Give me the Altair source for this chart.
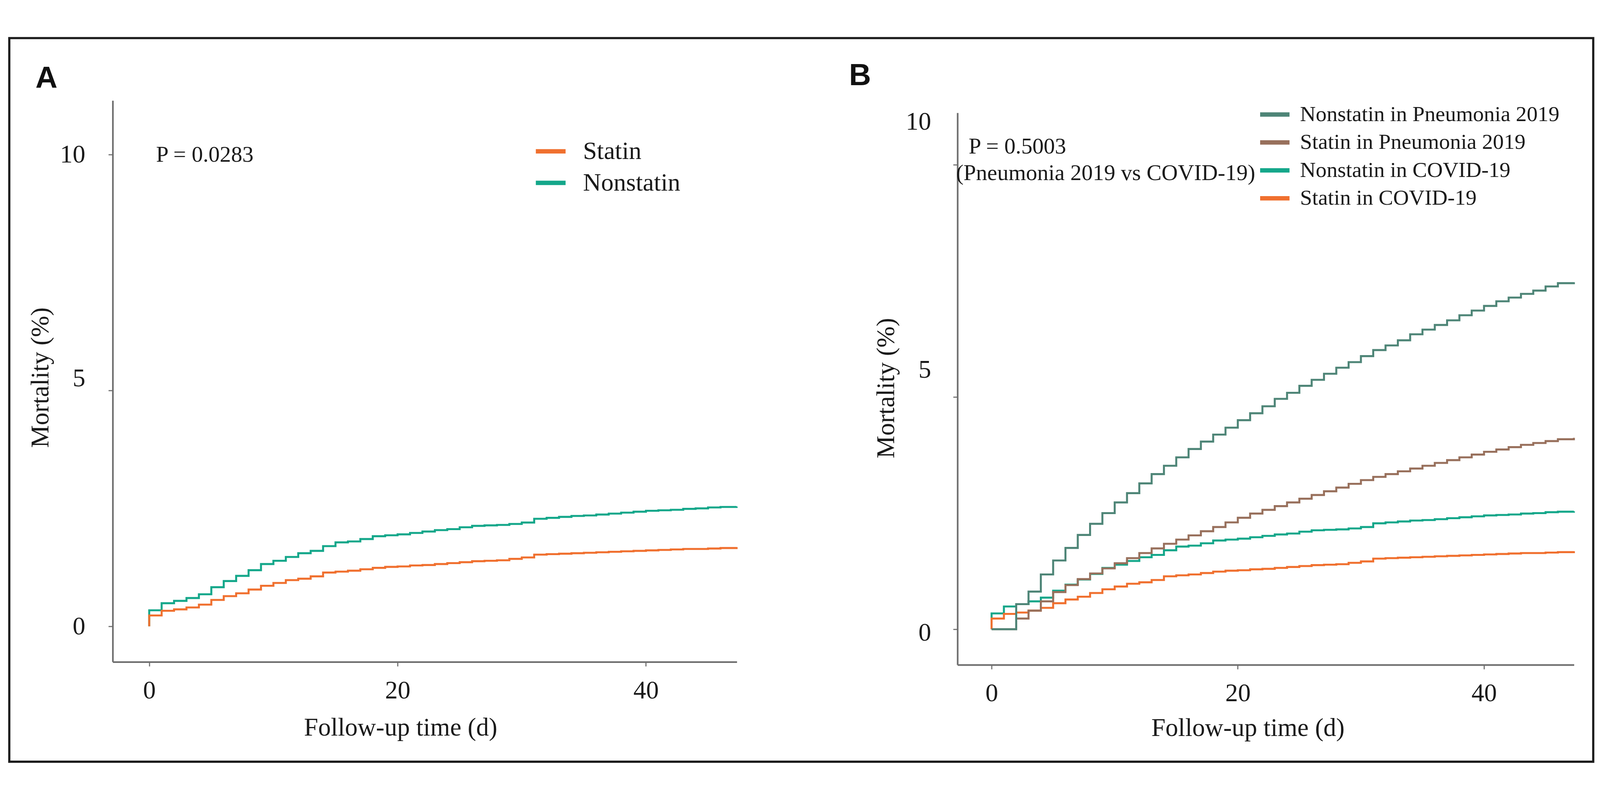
import altair as alt
import pandas as pd

# ---------------- data ----------------
days = [0, 1, 2, 3, 4, 5, 6, 7, 8, 9, 10, 11, 12, 13, 14, 15, 16, 17, 18, 19, 20,
        21, 22, 23, 24, 25, 26, 27, 28, 29, 30, 31, 32, 33, 34, 35, 36, 37, 38, 39,
        40, 41, 42, 43, 44, 45, 46, 47.3]

a_statin = [0.23, 0.33, 0.36, 0.40, 0.46, 0.56, 0.64, 0.70, 0.78, 0.86, 0.92, 0.98,
            1.01, 1.06, 1.14, 1.16, 1.18, 1.21, 1.24, 1.26, 1.27, 1.29, 1.30, 1.32,
            1.34, 1.36, 1.38, 1.39, 1.40, 1.43, 1.46, 1.52, 1.53, 1.54, 1.55, 1.56,
            1.57, 1.58, 1.59, 1.60, 1.61, 1.62, 1.63, 1.64, 1.64, 1.65, 1.66, 1.68]
a_nonstatin = [0.34, 0.49, 0.54, 0.60, 0.68, 0.83, 0.96, 1.07, 1.19, 1.32, 1.39, 1.47,
               1.55, 1.60, 1.70, 1.78, 1.80, 1.85, 1.91, 1.93, 1.95, 1.98, 2.01, 2.04,
               2.06, 2.10, 2.13, 2.14, 2.15, 2.17, 2.20, 2.28, 2.30, 2.32, 2.34, 2.35,
               2.37, 2.39, 2.41, 2.43, 2.45, 2.46, 2.47, 2.49, 2.50, 2.52, 2.53, 2.54]

b_nonstatin_pneu = [0.0, 0.0, 0.54, 0.81, 1.18, 1.48, 1.75, 2.03, 2.27, 2.50, 2.73, 2.93,
                    3.14, 3.34, 3.52, 3.70, 3.88, 4.04, 4.19, 4.34, 4.50, 4.65, 4.80, 4.96,
                    5.09, 5.24, 5.37, 5.50, 5.63, 5.75, 5.88, 6.01, 6.11, 6.22, 6.35, 6.45,
                    6.55, 6.65, 6.76, 6.86, 6.96, 7.06, 7.14, 7.22, 7.29, 7.38, 7.45, 7.47]
b_statin_pneu = [0.0, 0.0, 0.23, 0.40, 0.60, 0.80, 0.95, 1.08, 1.20, 1.31, 1.42, 1.53,
                 1.64, 1.74, 1.84, 1.93, 2.02, 2.11, 2.20, 2.30, 2.40, 2.49, 2.57, 2.65,
                 2.73, 2.81, 2.89, 2.97, 3.05, 3.13, 3.21, 3.28, 3.34, 3.40, 3.46, 3.52,
                 3.58, 3.64, 3.70, 3.76, 3.82, 3.87, 3.92, 3.97, 4.01, 4.05, 4.09, 4.12]
b_nonstatin_covid = [0.34, 0.49, 0.54, 0.60, 0.68, 0.83, 0.96, 1.07, 1.19, 1.32, 1.39, 1.47,
                     1.55, 1.60, 1.70, 1.78, 1.80, 1.85, 1.91, 1.93, 1.95, 1.98, 2.01, 2.04,
                     2.06, 2.10, 2.13, 2.14, 2.15, 2.17, 2.20, 2.28, 2.30, 2.32, 2.34, 2.35,
                     2.37, 2.39, 2.41, 2.43, 2.45, 2.46, 2.47, 2.49, 2.50, 2.52, 2.53, 2.54]
b_statin_covid = [0.23, 0.33, 0.36, 0.40, 0.46, 0.56, 0.64, 0.70, 0.78, 0.86, 0.92, 0.98,
                  1.01, 1.06, 1.14, 1.16, 1.18, 1.21, 1.24, 1.26, 1.27, 1.29, 1.30, 1.32,
                  1.34, 1.36, 1.38, 1.39, 1.40, 1.43, 1.46, 1.52, 1.53, 1.54, 1.55, 1.56,
                  1.57, 1.58, 1.59, 1.60, 1.61, 1.62, 1.63, 1.64, 1.64, 1.65, 1.66, 1.68]

A_GROUPS = ["Statin", "Nonstatin"]
B_GROUPS = ["Nonstatin in Pneumonia 2019", "Statin in Pneumonia 2019",
            "Nonstatin in COVID-19", "Statin in COVID-19"]
A_COLORS = ["#F0702F", "#14A78A"]
B_COLORS = ["#4E8577", "#98705C", "#14A78A", "#F0702F"]

x_ticks = [0, 20, 40]
y_ticks = [0, 5, 10]

p_text_a = "P = 0.0283"
p_text_b1 = "P = 0.5003"
p_text_b2 = "(Pneumonia 2019 vs COVID-19)"

SERIF = "Liberation Serif"
SANS = "Liberation Sans"
INK = "#1a1a1a"
AXC = "#6e6e6e"


def build(series, names):
    rows = []
    for name, vals in zip(names, series):
        rows.append({"t": 0.0, "v": 0.0, "group": name, "idx": 0})
        for i, (d, v) in enumerate(zip(days, vals)):
            rows.append({"t": d, "v": v, "group": name, "idx": i + 1})
    return pd.DataFrame(rows)


dfA = build([a_nonstatin, a_statin], ["Nonstatin", "Statin"])
dfB = build([b_nonstatin_covid, b_statin_covid, b_statin_pneu, b_nonstatin_pneu],
            ["Nonstatin in COVID-19", "Statin in COVID-19",
             "Statin in Pneumonia 2019", "Nonstatin in Pneumonia 2019"])

# ---------------- scales (pixel ranges inside one framed view) ----------------
scaleAx = alt.Scale(domain=[-2.94, 47.32], range=[285, 2005], nice=False, zero=False)
scaleAy = alt.Scale(domain=[-0.754, 11.146], range=[1719, 172], nice=False, zero=False)
scaleBx = alt.Scale(domain=[-2.77, 47.31], range=[2613, 4312], nice=False, zero=False)
scaleBy = alt.Scale(domain=[-0.766, 11.117], range=[1727, 206], nice=False, zero=False)

common = dict(grid=False, domainColor=AXC, domainWidth=4.5, tickColor=AXC, tickWidth=3,
              tickSize=12, labelFont=SERIF, labelFontSize=70, labelColor=INK,
              titleFont=SERIF, titleFontSize=70, titleFontWeight="normal",
              titleColor=INK, titleBaseline="alphabetic", titleAlign="center",
              labelFlush=False)

axAx = alt.Axis(orient="bottom", offset=-275, values=x_ticks, title="Follow-up time (d)",
                titleX=1078, titleY=202, titleAngle=0, labelPadding=33, **common)
axAy = alt.Axis(orient="left", offset=-285, values=y_ticks, title="Mortality (%)",
                titleX=-178, titleY=935, titleAngle=270, labelPadding=64,
                labelOffset=alt.ExprRef("datum.value == 5 ? -33 : 0.5"),
                **common)
axBx = alt.Axis(orient="bottom", offset=-267, values=x_ticks, title="Follow-up time (d)",
                titleX=3413, titleY=196, titleAngle=0, labelPadding=33, **common)
axBy = alt.Axis(orient="left", offset=-2613, values=y_ticks, title="Mortality (%)",
                titleX=-175, titleY=964, titleAngle=270, labelPadding=61,
                labelOffset={"condition": [{"test": "datum.value == 10", "value": -118},
                                           {"test": "datum.value == 5", "value": -74}],
                             "value": 10},
                **common)

legA = alt.Legend(title=None, orient="none", legendX=1445, legendY=265, padding=0,
                  labelFont=SERIF, labelFontSize=69, labelColor=INK, symbolType="stroke",
                  symbolStrokeWidth=12, symbolSize=6724, labelOffset=42, rowPadding=5,
                  labelLimit=2000)
legB = alt.Legend(title=None, orient="none", legendX=3441, legendY=164, padding=0,
                  labelFont=SERIF, labelFontSize=60, labelColor=INK, symbolType="stroke",
                  symbolStrokeWidth=12, symbolSize=6561, labelOffset=23, rowPadding=0,
                  labelLimit=2000)

XA = lambda f: alt.X(f"{f}:Q", scale=scaleAx, axis=axAx)
YA = lambda f: alt.Y(f"{f}:Q", scale=scaleAy, axis=axAy)
XB = lambda f: alt.X(f"{f}:Q", scale=scaleBx, axis=axBx)
YB = lambda f: alt.Y(f"{f}:Q", scale=scaleBy, axis=axBy)

# ---------------- panel A ----------------
linesA = alt.Chart(dfA).mark_line(interpolate="step-after", strokeWidth=5.5).encode(
    x=XA("t"), y=YA("v"),
    color=alt.Color("group:N", scale=alt.Scale(domain=A_GROUPS, range=A_COLORS), legend=legA),
    order="idx:Q",
)
pA = alt.Chart(pd.DataFrame({"t": [0.55], "v": [9.85], "label": [p_text_a]})).mark_text(
    align="left", baseline="alphabetic", font=SERIF, fontSize=62, color=INK
).encode(x=XA("t"), y=YA("v"), text="label:N")
letterA = alt.Chart(pd.DataFrame({"t": [-9.16], "v": [11.415], "label": ["A"]})).mark_text(
    align="left", baseline="alphabetic", font=SANS, fontWeight="bold", fontSize=84, color="#111111"
).encode(x=XA("t"), y=YA("v"), text="label:N")
panelA = alt.layer(linesA, pA, letterA)

# ---------------- panel B ----------------
linesB = alt.Chart(dfB).mark_line(interpolate="step-after", strokeWidth=5.5).encode(
    x=XB("t"), y=YB("v"),
    color=alt.Color("group:N", scale=alt.Scale(domain=B_GROUPS, range=B_COLORS), legend=legB),
    order="idx:Q",
)
pB = alt.Chart(pd.DataFrame({"t": [-1.86, -2.89], "v": [10.24, 9.67],
                             "label": [p_text_b1, p_text_b2]})).mark_text(
    align="left", baseline="alphabetic", font=SERIF, fontSize=62, color=INK
).encode(x=XB("t"), y=YB("v"), text="label:N")
letterB = alt.Chart(pd.DataFrame({"t": [-11.58], "v": [11.71], "label": ["B"]})).mark_text(
    align="left", baseline="alphabetic", font=SANS, fontWeight="bold", fontSize=84, color="#111111"
).encode(x=XB("t"), y=YB("v"), text="label:N")
panelB = alt.layer(linesB, pB, letterB)

chart = alt.layer(panelA, panelB).resolve_scale(
    x="independent", y="independent", color="independent"
).resolve_axis(x="independent", y="independent").resolve_legend(color="independent").properties(
    width=4365, height=1994,
    padding={"left": 17, "top": 19, "right": 10, "bottom": 10},
    autosize=alt.AutoSizeParams(type="none"),
    background="white",
).configure_view(stroke="#1c1c1c", strokeWidth=6)

chart.save("out.html", embed_options={"renderer": "svg", "actions": False})
